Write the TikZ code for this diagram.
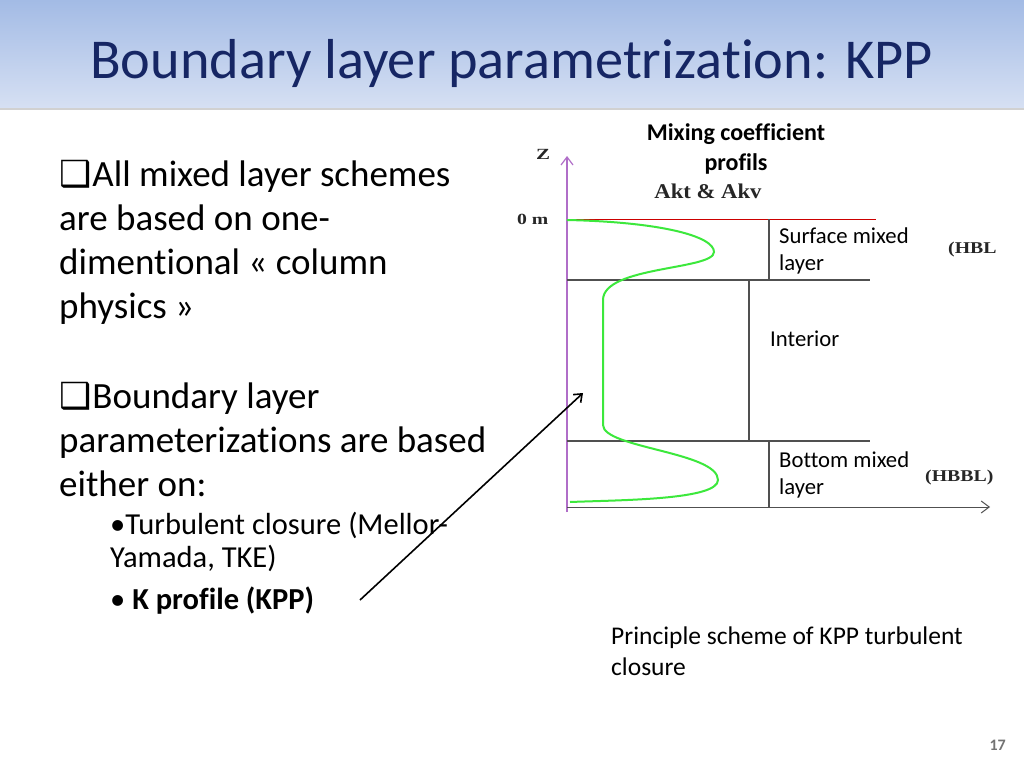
\documentclass[tikz,border=0pt]{standalone}
\usepackage{fontspec}
\setmainfont{Carlito}[Ligatures=NoCommon]
\newfontfamily\tnr{Liberation Serif}
\newfontfamily\dvs{DejaVu Sans}
\usepackage{graphicx}
\usepackage{tikz}
\usetikzlibrary{arrows.meta}

\definecolor{navy}{RGB}{22,38,100}
\definecolor{bandtop}{RGB}{163,187,229}
\definecolor{bandbot}{RGB}{214,224,243}
\definecolor{axispurple}{RGB}{176,110,200}
\definecolor{kgreen}{RGB}{60,232,60}
\definecolor{linegray}{RGB}{80,80,80}

\newcommand{\cbox}{{\dvs\fontsize{36}{43}\selectfont ❑}\hspace{1pt}}
\newcommand{\wide}[2]{\scalebox{#1}[1]{#2}}

\begin{document}
\begin{tikzpicture}[
  x=1pt, y=-1pt,
  txt/.style={anchor=base west, inner sep=0pt, font=\fontsize{37}{44}\selectfont},
  subtxt/.style={anchor=base west, inner sep=0pt, font=\fontsize{30.5}{33}\selectfont},
  lbl/.style={anchor=base west, inner sep=0pt, font=\fontsize{22.7}{27}\selectfont},
  tms/.style={anchor=base west, inner sep=0pt, font=\tnr\bfseries\fontsize{16.5}{20}\selectfont, text=black!85},
  layerline/.style={draw=linegray, line width=1.2pt},
  axis/.style={line width=1.2pt, -{Straight Barb[length=8pt, width=12pt]}},
]
  \useasboundingbox (0,0) rectangle (1024,768);
  \fill[white] (0,0) rectangle (1024,768);
  % title band
  \shade[top color=bandtop, bottom color=bandbot] (0,0) rectangle (1024,108);
  \draw[black!18, line width=2pt] (0,109) -- (1024,109);
  \node[anchor=base west, inner sep=0pt, text=navy, font=\fontsize{56.3}{68}\selectfont] (title) at (90,78) {Boundary layer parametrization: KPP};

  % left text
  \node[txt] (l1) at (59,186) {\cbox All mixed layer schemes};
  \node[txt] (l2) at (59,230) {are based on one-};
  \node[txt] (l3) at (59,274) {dimentional « column};
  \node[txt] (l4) at (59,318) {physics »};
  \node[txt] (l5) at (59,408) {\cbox Boundary layer};
  \node[txt] (l6) at (59,452) {parameterizations are based};
  \node[txt] (l7) at (59,496) {either on:};
  \node[subtxt] (s1) at (110,534) {•Turbulent closure (Mellor-};
  \node[subtxt] (s2) at (110,567) {Yamada, TKE)};
  \node[subtxt] (kpp) at (110,609) {• \textbf{K profile (KPP)}};

  % diagram labels
  \node[anchor=base, inner sep=0pt, font=\bfseries\fontsize{24}{28}\selectfont] (mix1) at (736,140) {Mixing coefficient};
  \node[anchor=base, inner sep=0pt, font=\bfseries\fontsize{24}{28}\selectfont] (mix2) at (736,170) {profils};
  \node[tms, anchor=base, font=\tnr\bfseries\fontsize{21}{24}\selectfont] (akt) at (708,198) {\wide{1.08}{Akt \& Akv}};
  \node[tms, font=\tnr\bfseries\fontsize{15.5}{18}\selectfont] (zlab) at (536,159) {\wide{1.35}{Z}};
  \node[tms, font=\tnr\bfseries\fontsize{15.5}{18}\selectfont] (zero) at (517,224) {\wide{1.27}{0 m}};
  \node[tms] (hbl) at (948,253) {\wide{1.2}{(HBL}};
  \node[tms] (hbbl) at (925,481) {\wide{1.2}{(HBBL)}};
  \node[lbl] (sml1) at (779,243) {Surface mixed};
  \node[lbl] (sml2) at (779,270) {layer};
  \node[lbl] (int) at (770,346) {Interior};
  \node[lbl] (bml1) at (779,467) {Bottom mixed};
  \node[lbl] (bml2) at (779,494) {layer};

  % axes and layers
  \coordinate (orig) at (567,507);
  \coordinate (ztop) at (567,156);
  \coordinate (xend) at (990,507);
  \draw[axis, axispurple] (567,512) -- (ztop);
  \draw[axis, linegray, line width=1pt] (orig) -- (xend);
  \draw[red!80!black, line width=1pt] (567,219) -- (876,219);
  \draw[layerline] (567,280) -- (870,280);
  \draw[layerline] (567,441) -- (870,441);
  \draw[layerline] (769,219) -- (769,280);
  \draw[layerline] (749,280) -- (749,441);
  \draw[layerline] (769,441) -- (769,507);

  % mixing profile
  \draw[kgreen, line width=2pt]
    (567,220) .. controls (660,222) and (714,236) .. (714,252)
    .. controls (714,270) and (603,266) .. (603,300)
    -- (603,425)
    .. controls (603,448) and (718,452) .. (718,480)
    .. controls (718,500) and (620,500) .. (570,502);

  % pointer
  \coordinate (ptail) at (360,600);
  \coordinate (phead) at (583,393);
  \draw[line width=1.6pt, -{Straight Barb[length=7pt, width=11pt]}] (ptail) -- (phead);

  % caption
  \node[lbl, font=\fontsize{25.5}{31}\selectfont] (cap1) at (611,644) {Principle scheme of KPP turbulent};
  \node[lbl, font=\fontsize{25.5}{31}\selectfont] (cap2) at (611,675) {closure};
  \node[anchor=base east, inner sep=0pt, text=black!55, font=\bfseries\fontsize{16}{18}\selectfont] (pnum) at (1006,750) {17};
\end{tikzpicture}
\end{document}
